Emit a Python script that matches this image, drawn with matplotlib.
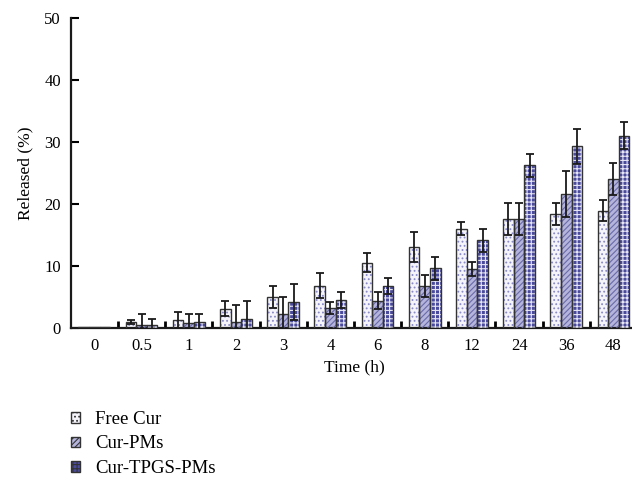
import numpy as np
import matplotlib
matplotlib.use("Agg")
import matplotlib.pyplot as plt
from matplotlib.patches import Patch

times = ["0", "0.5", "1", "2", "3", "4", "6", "8", "12", "24", "36", "48"]
series = ["Free Cur", "Cur-PMs", "Cur-TPGS-PMs"]

free_cur = [0.2, 1.0, 1.2, 3.1, 5.0, 6.8, 10.5, 13.0, 16.0, 17.6, 18.4, 18.9]
free_err = [0.0, 0.3, 1.4, 1.2, 1.8, 2.0, 1.5, 2.4, 1.0, 2.6, 1.8, 1.7]
cur_pms = [0.2, 0.4, 0.8, 1.0, 2.2, 3.2, 4.4, 6.7, 9.5, 17.6, 21.6, 24.0]
pms_err = [0.0, 1.9, 1.5, 2.7, 2.7, 1.0, 1.4, 1.8, 1.1, 2.6, 3.7, 2.6]
cur_tpgs = [0.2, 0.5, 0.9, 1.5, 4.1, 4.5, 6.8, 9.6, 14.1, 26.2, 29.3, 31.0]
tpgs_err = [0.0, 1.0, 1.4, 2.8, 2.9, 1.3, 1.3, 1.9, 1.8, 1.8, 2.8, 2.2]

plt.rcParams["font.family"] = ["Liberation Serif", "DejaVu Serif"]
plt.rcParams["hatch.linewidth"] = 0.8

faces = ["#f4f4fa", "#b4b4dc", "#4a4a9c"]
hatch_cols = ["#8a8ac8", "#6a6aa8", "#e6e6f6"]
hatches = ["....", "//////", "++++"]

fig = plt.figure(figsize=(6.32, 4.8), dpi=100)
ax = fig.add_axes([0.112, 0.317, 0.896, 0.6458])

x = np.arange(len(times))
w = 0.225
vals = [free_cur, cur_pms, cur_tpgs]
errs = [free_err, pms_err, tpgs_err]
for i in range(3):
    pos = x + (i - 1) * w
    ax.bar(pos, vals[i], w, color=faces[i], edgecolor="none", zorder=2)
    ax.bar(pos, vals[i], w, color="none", edgecolor=hatch_cols[i],
           hatch=hatches[i], linewidth=0, zorder=3)
    ax.bar(pos, vals[i], w, color="none", edgecolor="#333333",
           linewidth=1.0, zorder=4)
    e = np.array(errs[i])
    mask = e > 0
    ax.errorbar(pos[mask], np.array(vals[i])[mask], yerr=e[mask], fmt="none",
                ecolor="#1a1a1a", elinewidth=1.3, capsize=3, capthick=1.3,
                zorder=5)

ax.set_xlim(-0.5, 11.5)
ax.set_ylim(0, 50)
ax.set_yticks([0, 10, 20, 30, 40, 50])
ax.set_xticks(np.arange(0.5, 11.5, 1.0))
ax.set_xticklabels([])
ax.set_xticks(x, minor=True)
ax.set_xticklabels(times, minor=True)
ax.tick_params(axis="x", which="major", direction="in", length=5, width=2)
ax.tick_params(axis="x", which="minor", length=0, pad=7, labelsize=12)
ax.tick_params(axis="y", direction="in", length=6, width=1.5, labelsize=12,
               pad=7)

for s in ["top", "right"]:
    ax.spines[s].set_visible(False)
for s in ["left", "bottom"]:
    ax.spines[s].set_linewidth(1.6)
    ax.spines[s].set_color("#1a1a1a")

ax.set_xlabel("Time (h)", fontsize=12.5, labelpad=4)
ax.set_ylabel("Released (%)", fontsize=12.5, labelpad=8)

handles = []
for i in range(3):
    handles.append(Patch(facecolor=faces[i], edgecolor="#333333",
                         hatch=hatches[i], label=series[i]))
fig.legend(handles=handles, loc="center left", bbox_to_anchor=(0.112, 0.075),
           frameon=False, fontsize=13.5, handlelength=0.5, handleheight=0.5,
           handletextpad=0.8, labelspacing=0.4, borderaxespad=0, borderpad=0)

fig.savefig("out.png", dpi=100)
